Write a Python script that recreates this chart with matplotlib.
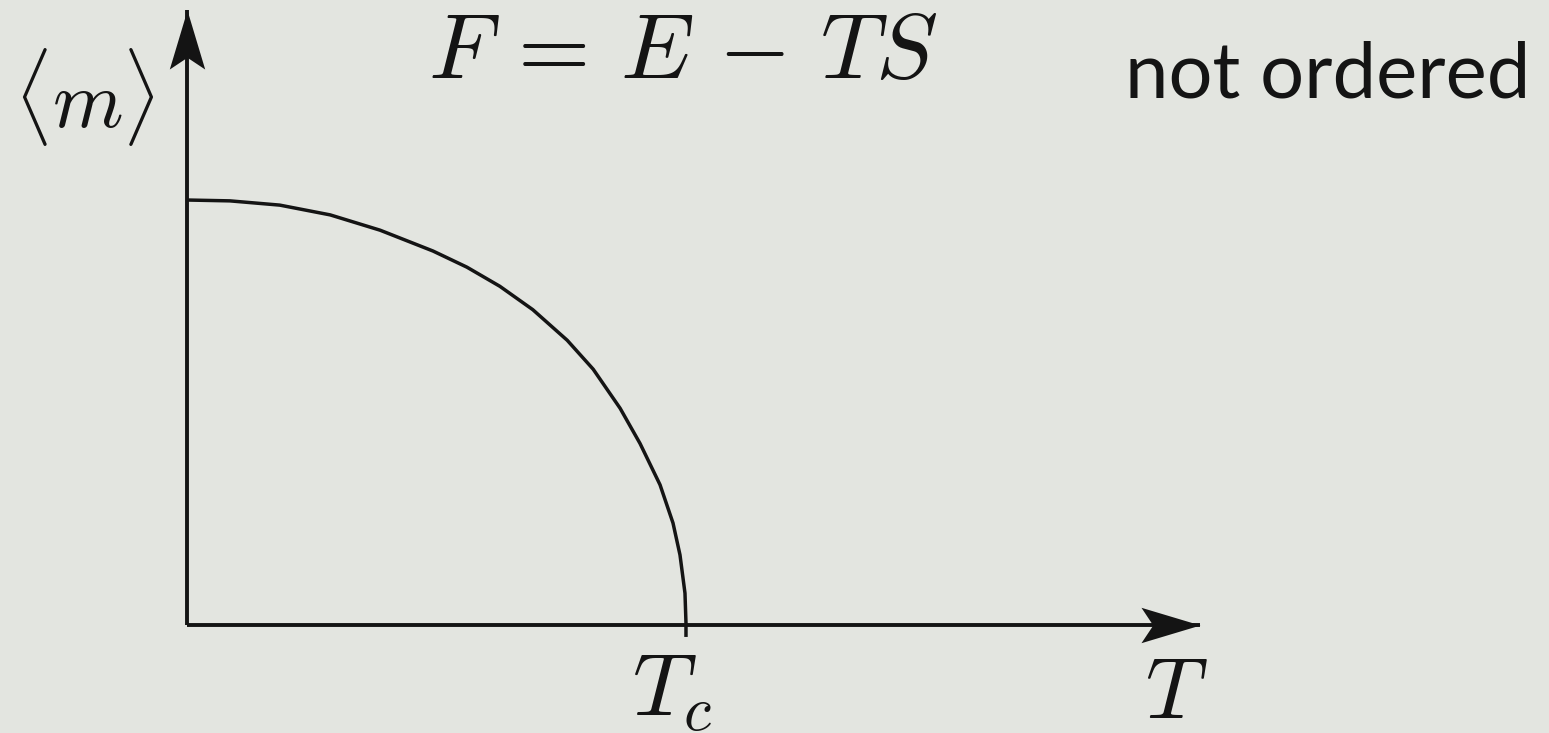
import matplotlib.pyplot as plt
from matplotlib.path import Path

plt.rcParams['mathtext.fontset'] = 'cm'

# order parameter <m> vs temperature (T in units of Tc)
temp = [0.0, 0.086, 0.186, 0.287, 0.387, 0.493, 0.561, 0.627, 0.693, 0.762, 0.814,
        0.868, 0.908, 0.948, 0.974, 0.988, 0.998, 1.0, 1.0]
magn = [1.0, 0.998, 0.988, 0.965, 0.929, 0.880, 0.842, 0.797, 0.742, 0.670, 0.602,
        0.510, 0.427, 0.330, 0.240, 0.165, 0.075, 0.005, -0.028]

bg = '#e3e5e0'
ink = '#141414'

fig = plt.figure(figsize=(15.49, 7.33), dpi=100, facecolor=bg)
ax = fig.add_axes([0, 0, 1, 1])
ax.set_facecolor(bg)
ax.set_xlim(-0.3747, 2.7295)
ax.set_ylim(-0.254, 1.4706)
ax.axis('off')

# axes lines with latex-like arrow heads
x_tip, y_tip = 2.03, 1.447
head_x = Path([(0, 0), (-1, 0.3), (-0.8, 0), (-1, -0.3), (0, 0)])
head_y = Path([(0, 0), (0.3, -1), (0, -0.8), (-0.3, -1), (0, 0)])
ax.plot([0, x_tip], [0, 0], color=ink, lw=2.8, solid_capstyle='butt')
ax.plot([0, 0], [0, y_tip], color=ink, lw=2.8, solid_capstyle='butt')
ax.plot(x_tip, 0, marker=head_x, ms=85, color=ink, mew=0)
ax.plot(0, y_tip, marker=head_y, ms=85, color=ink, mew=0)

ax.plot(temp, magn, color=ink, lw=2.5, solid_capstyle='butt', solid_joinstyle='round')

def px(x, y):
    return x / 1549, 1 - y / 733

fig.text(*px(428, 78), r'$F\,=\,E\,-\,TS$', fontsize=67, color=ink, ha='left', va='baseline')
fig.text(*px(1125, 97), 'not ordered', fontsize=56, color=ink, ha='left', va='baseline',
         family=['Lato', 'DejaVu Sans'])
fig.text(*px(84, 97), r'$\langle m \rangle$', fontsize=58, color=ink, ha='center', va='center')
fig.text(*px(632, 716), r'$T_c$', fontsize=64, color=ink, ha='left', va='baseline')
fig.text(*px(1145, 718), r'$T$', fontsize=62, color=ink, ha='left', va='baseline')

fig.savefig('out.png', dpi=100, facecolor=bg)
